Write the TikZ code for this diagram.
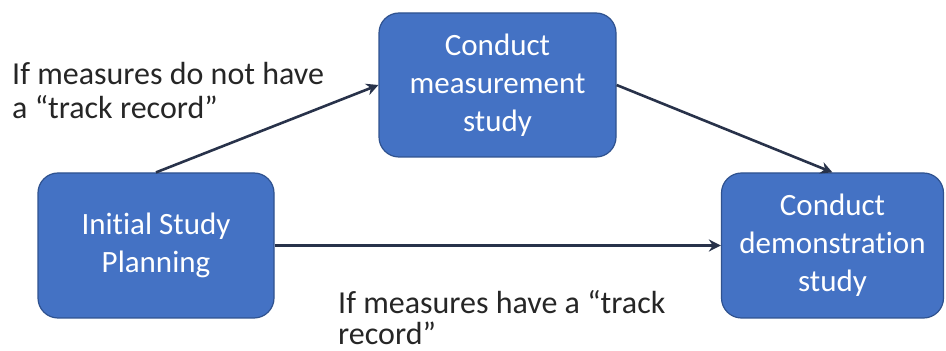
\documentclass[tikz,border=0pt]{standalone}
\usepackage{fontspec}
\setmainfont[Ligatures=NoCommon]{Carlito}
\usetikzlibrary{arrows.meta}
\definecolor{boxfill}{HTML}{4472C4}
\definecolor{boxedge}{HTML}{2F528F}
\definecolor{linkcol}{HTML}{28324A}
\definecolor{labelcol}{HTML}{262626}
\tikzset{
  stepbox/.style={draw=boxedge, line width=1.2pt, fill=boxfill, rounded corners=20pt,
    text=white, align=center, inner sep=0pt,
    font=\fontsize{31}{38}\selectfont},
  link/.style={draw=linkcol, line width=2.6pt, -{Stealth[length=12pt,width=12pt]}},
  note/.style={text=labelcol, align=left, inner sep=0pt, anchor=north west,
    font=\fontsize{32}{34}\selectfont}
}
\begin{document}
\begin{tikzpicture}[x=1pt,y=1pt]
  \useasboundingbox (0,0) rectangle (946,351);
  % process steps
  \node[stepbox, minimum width=236pt, minimum height=145pt] (init) at (156,105.5)
    {Initial Study\\Planning};
  \node[stepbox, minimum width=237pt, minimum height=144pt] (meas) at (497.5,266)
    {Conduct\\measurement\\study};
  \node[stepbox, minimum width=222pt, minimum height=145pt] (demo) at (832.5,105.5)
    {Conduct\\demonstration\\study};
  % transitions
  \draw[link] (init.north) -- (meas.west);
  \draw[link] (meas.east) -- (demo.north);
  \draw[link] (init.east) -- (demo.west);
  % conditions
  \node[note] (upper) at (12,289) {If measures do not have\\a “track record”};
  \node[note, font=\fontsize{32}{31}\selectfont] (lower) at (338,61)
    {If measures have a “track\\record”};
\end{tikzpicture}
\end{document}
